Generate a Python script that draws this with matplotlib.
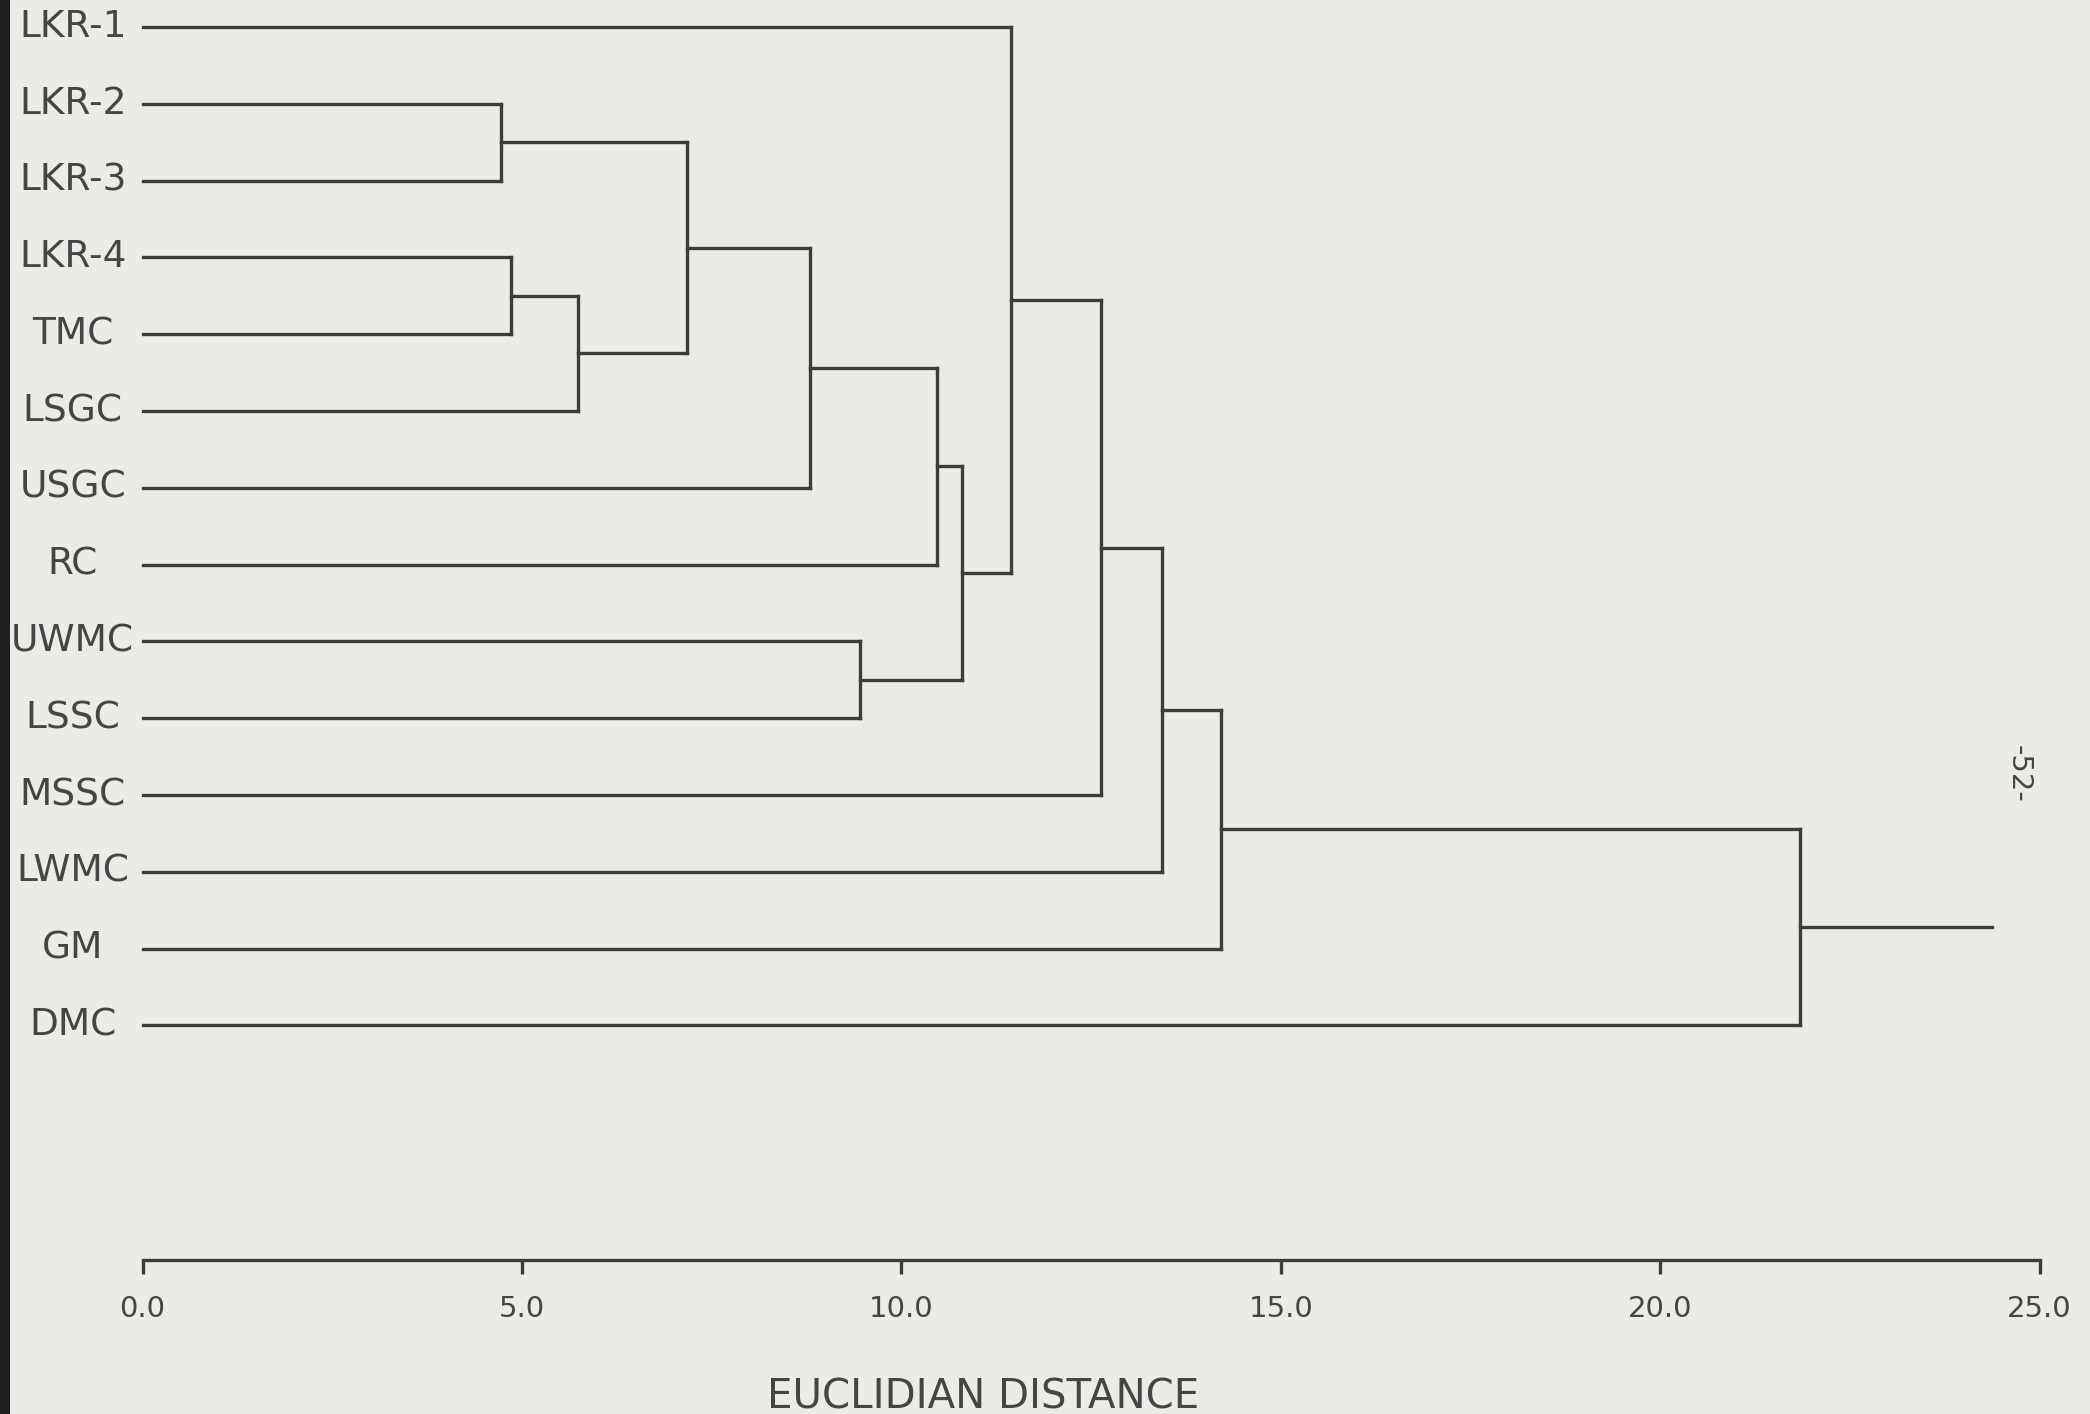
import matplotlib
matplotlib.use("Agg")
import matplotlib.pyplot as plt
from matplotlib.patches import Rectangle

# ---- data -------------------------------------------------------------
labels = ["LKR-1", "LKR-2", "LKR-3", "LKR-4", "TMC", "LSGC", "USGC", "RC",
          "UWMC", "LSSC", "MSSC", "LWMC", "GM", "DMC"]
# merges: node ids 0..13 are leaves, new nodes numbered from 14 in order
merge_a = [1, 3, 15, 14, 17, 8, 18, 20, 0, 22, 23, 24, 25]
merge_b = [2, 4, 5, 16, 6, 9, 7, 19, 21, 10, 11, 12, 13]
merge_h = [4.73, 4.85, 5.74, 7.17, 8.80, 9.45, 10.47, 10.80, 11.44,
           12.63, 13.44, 14.21, 21.84]
root_end = 24.38
ticks = [0.0, 5.0, 10.0, 15.0, 20.0, 25.0]
tick_labels = ["0.0", "5.0", "10.0", "15.0", "20.0", "25.0"]
xlabel = "EUCLIDIAN DISTANCE"
page_mark = "-52-"

# ---- style ------------------------------------------------------------
BG = "#ebebe8"
LINE = "#3d3d3d"
TXT = "#454545"
LW = 2.4

W, H = 2090, 1414
fig = plt.figure(figsize=(W / 100, H / 100), dpi=100, facecolor=BG)
fig.patches.append(Rectangle((0, 0), 10 / W, 1, transform=fig.transFigure,
                             facecolor="#1e1e1e", edgecolor="none", zorder=0))

x0, x1 = 142.6, 2039.5
axis_y = 1260
ax = fig.add_axes([x0 / W, (H - axis_y) / H, (x1 - x0) / W, axis_y / H])
ax.set_facecolor("none")
ax.set_xlim(0, 25)
leaf_top, leaf_step = 27, 76.8
ax.set_ylim((axis_y - leaf_top) / leaf_step, -leaf_top / leaf_step)

# ---- dendrogram -------------------------------------------------------
n = len(labels)
node_x = {i: 0.0 for i in range(n)}
node_y = {i: float(i) for i in range(n)}
for k, (a, b, h) in enumerate(zip(merge_a, merge_b, merge_h)):
    nid = n + k
    for c in (a, b):
        ax.plot([node_x[c], h], [node_y[c], node_y[c]], color=LINE, lw=LW,
                solid_capstyle="projecting", clip_on=False)
    ax.plot([h, h], [node_y[a], node_y[b]], color=LINE, lw=LW,
            solid_capstyle="projecting", clip_on=False)
    node_x[nid] = h
    node_y[nid] = (node_y[a] + node_y[b]) / 2
root = n + len(merge_h) - 1
ax.plot([node_x[root], root_end], [node_y[root], node_y[root]], color=LINE,
        lw=LW, solid_capstyle="projecting", clip_on=False)

for i, lab in enumerate(labels):
    ax.text(-0.92, i, lab, ha="center", va="center", fontsize=27,
            color=TXT, family="DejaVu Sans")

# ---- axis -------------------------------------------------------------
for s in ("left", "right", "top"):
    ax.spines[s].set_visible(False)
ax.spines["bottom"].set_color(LINE)
ax.spines["bottom"].set_linewidth(LW)
ax.set_yticks([])
ax.set_xticks(ticks)
ax.set_xticklabels(tick_labels)
ax.tick_params(axis="x", direction="out", length=10, width=2.4, color=LINE,
               labelsize=21, labelcolor=TXT, pad=15)
ax.set_xlabel(xlabel, fontsize=29, color=TXT)
ax.xaxis.set_label_coords(11.08 / 25, -0.093)

fig.text(2019 / W, 1 - 774 / H, page_mark, rotation=-90, ha="center",
         va="center", fontsize=21, color=TXT)

fig.savefig("out.png", dpi=100, facecolor=BG)
